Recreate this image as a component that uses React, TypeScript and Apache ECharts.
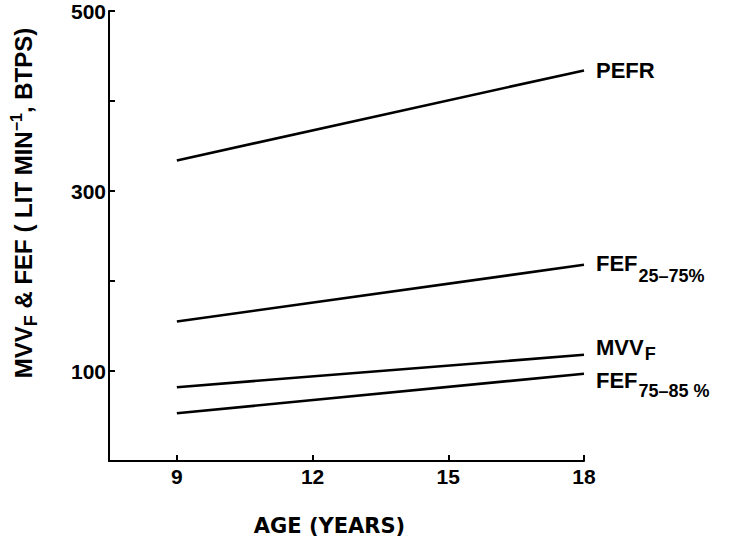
import React, { useEffect, useRef } from "react";
import * as echarts from "echarts";

const ages = [9, 18];
const pefr = [334, 434];
const fef2575 = [155, 218];
const mvvf = [82, 118];
const fef7585 = [53, 97];
const xTicks = [9, 12, 15, 18];
const yLabels = [100, 300, 500];
const yTicks = [100, 200, 300, 400, 500];

const FONT = "Liberation Sans";

function mk(vals: number[]) {
  return ages.map((a, i) => [a, vals[i]]);
}

function endLabel(formatter: string, subPad: number, offsetY: number) {
  return {
    show: true,
    formatter,
    distance: 12,
    offset: [0, offsetY],
    color: "#000",
    fontFamily: FONT,
    fontWeight: "bold",
    rich: {
      m: { fontSize: 22, lineHeight: 22, verticalAlign: "top", fontFamily: FONT, fontWeight: "bold", color: "#000" },
      s: { fontSize: 18, lineHeight: 18, verticalAlign: "top", padding: [subPad, 0, 0, 1], fontFamily: FONT, fontWeight: "bold", color: "#000" },
    },
  };
}

export default function App() {
  const ref = useRef<HTMLDivElement>(null);
  useEffect(() => {
    if (!ref.current) return;
    const chart = echarts.init(ref.current, null, { renderer: "svg" });
    const line = { color: "#000", width: 2.6 };
    chart.setOption({
      animation: false,
      backgroundColor: "#fff",
      grid: { left: 107, right: 163, top: 11, bottom: 76, containLabel: false },
      xAxis: {
        type: "value",
        min: 7.5,
        max: 18,
        axisLine: { lineStyle: { color: "#000", width: 2 } },
        axisTick: { show: true, inside: true, length: 6, customValues: xTicks, lineStyle: { color: "#000", width: 2 } },
        axisLabel: { customValues: xTicks, fontSize: 21, color: "#000", fontFamily: FONT, fontWeight: "bold", margin: 5 },
        splitLine: { show: false },
        name: "AGE (YEARS)",
        nameLocation: "middle",
        nameGap: 54,
        nameTextStyle: { fontSize: 21, color: "#000", fontFamily: "DejaVu Sans", fontWeight: "bold", padding: [0, 34, 0, 0] },
      },
      yAxis: {
        type: "value",
        min: 0,
        max: 500,
        interval: 100,
        axisLine: { show: true, lineStyle: { color: "#000", width: 2 } },
        axisTick: { show: true, inside: true, length: 6, customValues: yTicks, lineStyle: { color: "#000", width: 2 } },
        axisLabel: { customValues: yLabels, fontSize: 21, color: "#000", fontFamily: FONT, fontWeight: "bold", margin: 3 },
        splitLine: { show: false },
        name: "{a|MVV}{sub|F}{a| & FEF ( LIT MIN}{sup|−1}{a|, BTPS)}",
        nameLocation: "middle",
        nameRotate: 90,
        nameGap: 77,
        nameTextStyle: {
          color: "#000",
          fontFamily: FONT,
          fontWeight: "bold",
          padding: [0, 0, 0, 66],
          rich: {
            a: { fontSize: 24, lineHeight: 24, verticalAlign: "top", padding: [3, 0, 0, 0], fontFamily: FONT, fontWeight: "bold", color: "#000" },
            sub: { fontSize: 18, lineHeight: 18, verticalAlign: "top", padding: [14, 0, 0, 0], fontFamily: FONT, fontWeight: "bold", color: "#000" },
            sup: { fontSize: 16, lineHeight: 16, verticalAlign: "top", padding: [0, 0, 0, 0], fontFamily: FONT, fontWeight: "bold", color: "#000" },
          },
        },
      },
      series: [
        { name: "PEFR", type: "line", data: mk(pefr), symbol: "none", lineStyle: line, endLabel: endLabel("{m|PEFR}", 0, 0) },
        { name: "FEF25-75%", type: "line", data: mk(fef2575), symbol: "none", lineStyle: line, endLabel: endLabel("{m|FEF}{s|25–75%}", 14, -1) },
        { name: "MVVF", type: "line", data: mk(mvvf), symbol: "none", lineStyle: line, endLabel: endLabel("{m|MVV}{s|F}", 8, -7) },
        { name: "FEF75-85%", type: "line", data: mk(fef7585), symbol: "none", lineStyle: line, endLabel: endLabel("{m|FEF}{s|75–85 %}", 12, 7) },
      ],
    });
    return () => chart.dispose();
  }, []);
  return <div ref={ref} style={{ position: "fixed", left: 0, top: 0, width: 747, height: 541 }} />;
}
